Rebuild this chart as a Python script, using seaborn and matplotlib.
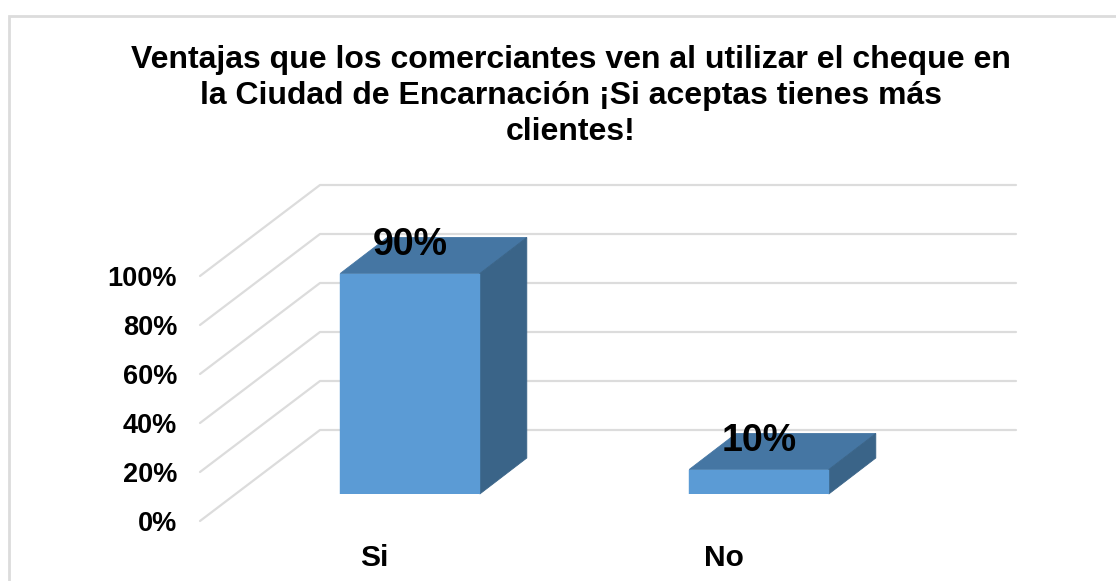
import seaborn as sns
import pandas as pd
import matplotlib.pyplot as plt
from matplotlib.patches import Polygon, Rectangle

categories = ["Si", "No"]
values = [90, 10]
value_labels = ["90%", "10%"]
y_ticks = [0, 20, 40, 60, 80, 100]
y_tick_labels = ["0%", "20%", "40%", "60%", "80%", "100%"]
title = ("Ventajas que los comerciantes ven al utilizar el cheque en\n"
         "la Ciudad de Encarnación ¡Si aceptas tienes más\n"
         "clientes!")

W, H = 1116, 581
sns.set_theme(style="white")
plt.rcParams['font.family'] = ['Liberation Sans', 'DejaVu Sans']

GRID = "#dcdcdc"
FRONT = "#5b9bd5"
TOP = "#4576a3"
SIDE = "#3a6488"

df = pd.DataFrame({"categoria": categories, "valor": values})

fig = plt.figure(figsize=(W / 100, H / 100), dpi=100)

# outer chart border
fig.add_artist(Rectangle((9 / W, -0.1), (W + 40) / W, 1.1 - 16 / H, transform=fig.transFigure,
                         fill=False, edgecolor="#dcdcdc", linewidth=2))


def px_axes(left, bottom_y, width, height):
    return fig.add_axes([left / W, 1 - bottom_y / H, width / W, height / H])


# front plane holds the ticks, the bars sit a bit further back
ax = px_axes(200, 521, 698, 245)
ax_bar = px_axes(235.5, 494, 698, 245)

for a in (ax, ax_bar):
    a.set_xlim(-0.5, 1.5)
    a.set_ylim(0, 100)
    a.patch.set_alpha(0)
    sns.despine(ax=a, left=True, bottom=True)

# wall lines: diagonal up from the front plane, then along the back
depth_x = 120 / 349
depth_y = 91 / 2.45
wall_end = 1.5 + depth_x - 2 / 349
for t in y_ticks:
    ax.plot([-0.5, -0.5 + depth_x, wall_end], [t, t + depth_y, t + depth_y],
            color=GRID, lw=1.6, clip_on=False, zorder=1)

ax.set_xticks(range(len(categories)))
ax.set_xticklabels(categories, fontsize=21.5, fontweight="bold", color="black")
ax.set_yticks(y_ticks)
ax.set_yticklabels(y_tick_labels, fontsize=19.5, fontweight="bold", color="black")
ax.tick_params(axis="y", length=0, pad=16.5)
ax.tick_params(axis="x", length=0, pad=16.5)

sns.barplot(df, x="categoria", y="valor", ax=ax_bar, color=FRONT, saturation=1,
            width=0.4, zorder=3, edgecolor=FRONT, linewidth=0.3)
ax_bar.set_xlim(-0.5, 1.5)
ax_bar.set_ylim(0, 100)
ax_bar.set_xlabel("")
ax_bar.set_ylabel("")
ax_bar.set_xticks([])
ax_bar.set_yticks([])

# extrude each bar for the 3d look
bar_dx = 47 / 349
bar_dy = 36 / 2.45
for bar, label in zip(ax_bar.patches, value_labels):
    x0, x1 = bar.get_x(), bar.get_x() + bar.get_width()
    top = bar.get_height()
    ax_bar.add_patch(Polygon([(x0, top), (x1, top), (x1 + bar_dx, top + bar_dy), (x0 + bar_dx, top + bar_dy)],
                             facecolor=TOP, edgecolor=TOP, linewidth=0.6, clip_on=False, zorder=2.9))
    ax_bar.add_patch(Polygon([(x1, 0), (x1 + bar_dx, bar_dy), (x1 + bar_dx, top + bar_dy), (x1, top)],
                             facecolor=SIDE, edgecolor=SIDE, linewidth=0.6, clip_on=False, zorder=2.9))
    ax_bar.text((x0 + x1) / 2, top + bar_dy * 0.8, label, ha="center", va="center",
                fontsize=27, fontweight="bold", color="black", clip_on=False, zorder=5)

fig.text(570.5 / W, 1 - 96 / H, title, ha="center", va="center", fontsize=23,
         fontweight="bold", color="black", linespacing=1.27)

fig.savefig("out.png", dpi=100, facecolor="white")
